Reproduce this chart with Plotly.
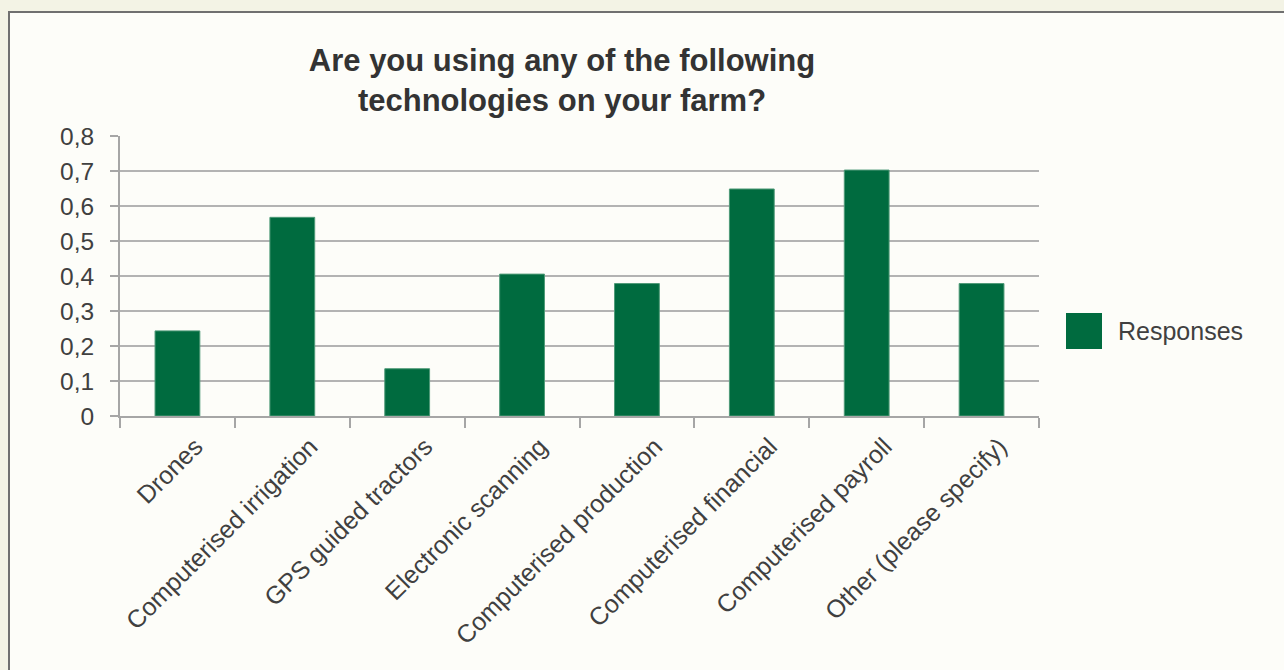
import plotly.graph_objects as go

# Survey share of farms using each technology
categories = [
    "Drones",
    "Computerised irrigation",
    "GPS guided tractors",
    "Electronic scanning",
    "Computerised production",
    "Computerised financial",
    "Computerised payroll",
    "Other (please specify)",
]
responses = [0.2432, 0.5676, 0.1351, 0.4054, 0.3784, 0.6486, 0.7027, 0.3784]
y_ticks = [0, 0.1, 0.2, 0.3, 0.4, 0.5, 0.6, 0.7, 0.8]

W, H = 1284, 670
L, R, T, B = 120, 245, 136, 254
pw, ph = W - L - R, H - T - B

def px_x(px):
    return (px - L) / pw

def px_y(py):
    return (H - B - py) / ph

BAR = "#006b3f"
TEXT = "#404040"
GRID = "#b3b3b3"
FONT = "Liberation Sans, Arial, sans-serif"

fig = go.Figure()
fig.add_trace(go.Bar(
    x=categories,
    y=responses,
    name="Responses",
    width=0.39,
    marker=dict(color=BAR, line=dict(color="#4f9a78", width=1)),
    showlegend=False,
))

shapes = [
    # framed chart panel
    dict(type="rect", xref="paper", yref="paper",
         x0=px_x(9), x1=px_x(1300), y0=px_y(12), y1=px_y(700),
         fillcolor="#fdfdf9", line=dict(color="#707070", width=2), layer="below"),
    # legend swatch
    dict(type="rect", xref="paper", yref="paper",
         x0=px_x(1066), x1=px_x(1102), y0=px_y(349), y1=px_y(313),
         fillcolor=BAR, line=dict(width=0)),
]

annotations = [
    dict(text="Responses", xref="paper", yref="paper",
         x=px_x(1116), y=px_y(331), xanchor="left", yanchor="middle",
         showarrow=False, font=dict(family=FONT, size=25, color=TEXT)),
]

fig.update_layout(
    width=W, height=H,
    margin=dict(l=L, r=R, t=T, b=B, pad=0),
    paper_bgcolor="#f3f3e5",
    plot_bgcolor="rgba(0,0,0,0)",
    separators=", ",
    font=dict(family=FONT, size=24, color=TEXT),
    title=dict(
        text="<b>Are you using any of the following<br>technologies on your farm?</b>",
        x=562 / W, xanchor="center",
        y=1 - 71 / H, yanchor="middle", yref="container",
        font=dict(family=FONT, size=31, color="#333333"),
    ),
    bargap=0.61,
    shapes=shapes,
    annotations=annotations,
)

fig.update_xaxes(
    type="category",
    tickangle=-45,
    tickson="boundaries",
    ticks="outside", ticklen=10, tickwidth=2, tickcolor="#a6a6a6",
    showline=True, linecolor="#a6a6a6", linewidth=2,
    showgrid=False,
    ticklabelshift=18,
    ticklabelstandoff=4,
    tickfont=dict(family=FONT, size=25, color=TEXT),
)

fig.update_yaxes(
    range=[0, 0.8],
    tickvals=y_ticks,
    ticks="outside", ticklen=8, tickwidth=2, tickcolor="#a6a6a6",
    showline=True, linecolor="#a6a6a6", linewidth=2,
    showgrid=True, gridcolor=GRID, gridwidth=1.5,
    zeroline=False,
    ticklabelstandoff=11,
    tickfont=dict(family=FONT, size=24.5, color=TEXT),
)

fig.write_html("out.html")
